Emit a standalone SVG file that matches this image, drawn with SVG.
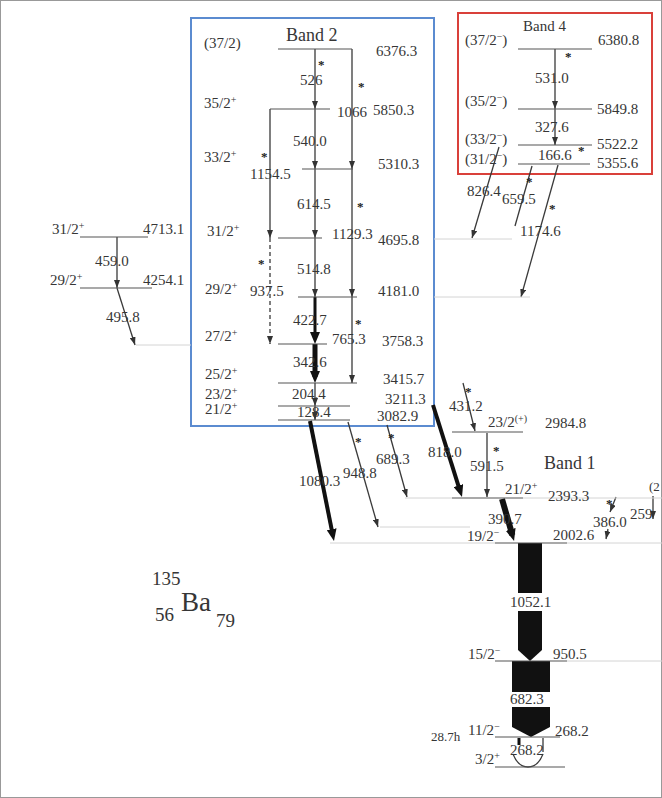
<svg xmlns="http://www.w3.org/2000/svg" width="662" height="798" viewBox="0 0 662 798">
<style>
.t{font-family:"Liberation Serif","Times New Roman",serif;font-size:15px;fill:#363636}
.b{font-size:18px}
.s{font-size:10px}
.a{font-family:"Liberation Serif",serif;font-size:13px;font-weight:bold;fill:#222}
.lv{stroke:#555;stroke-width:1.2;fill:none}
.fl{stroke:#d4d4d4;stroke-width:1;fill:none}
.tr{stroke:#3a3a3a;stroke-width:1.3;fill:none;marker-end:url(#ah)}
.tn{stroke:#3a3a3a;stroke-width:1.3;fill:none}
.tk{stroke:#111;fill:none;marker-end:url(#ahb)}
.bar{fill:#111}
</style>
<defs>
<marker id="ah" markerUnits="userSpaceOnUse" markerWidth="8" markerHeight="6" refX="8" refY="3" orient="auto"><path d="M0,0 L8,3 L0,6 z" fill="#333"/></marker>
<marker id="ahb" markerUnits="userSpaceOnUse" markerWidth="12" markerHeight="10" refX="6" refY="5" orient="auto"><path d="M0,0 L12,5 L0,10 z" fill="#111"/></marker>
</defs>
<rect x="0.5" y="0.5" width="661" height="797" fill="#fff" stroke="#999"/>

<g id="band2-box"><rect x="191" y="18" width="243" height="408" fill="none" stroke="#5b8bd0" stroke-width="2"/><text class="t b" x="286" y="41">Band 2</text></g>
<g id="band4-box"><rect x="458" y="13" width="194" height="161" fill="none" stroke="#d9403a" stroke-width="2"/><text class="t" x="523" y="31">Band 4</text></g>
<g id="band1-label"><text class="t b" x="544" y="469">Band 1</text></g>

<g id="connectors">
<path class="tr" d="M315 49V109"/>
<path class="tr" d="M352 49V169"/>
<path class="tr" d="M315 109V169"/>
<path class="tr" d="M270 109V238"/>
<path class="tr" d="M315 169V238"/>
<path class="tr" d="M352 169V297"/>
<path class="tr" d="M270 238V344" stroke-dasharray="4 3"/>
<path class="tr" d="M315 238V297"/>
<path class="tr" d="M352 297V383"/>
<path class="tk" d="M315 297V338" stroke-width="3"/>
<path class="tk" d="M315 344V377" stroke-width="5"/>
<path class="tr" d="M315 383V406" stroke-width="2"/>
<path class="tr" d="M315 406V420"/>
<path class="tr" d="M117 237V288"/>
<path class="tr" d="M117 288L135 345"/>
<path class="tr" d="M555 49V109"/>
<path class="tr" d="M555 109V145"/>
<path class="tr" d="M499 147L472 238"/>
<path class="tn" d="M532 166L515 226"/>
<path class="tr" d="M558 165L521 297"/>
<path class="tk" d="M310 421L332.8 535.1" stroke-width="4"/>
<path class="tr" d="M348 422L378 527"/>
<path class="tr" d="M387 425L407 497"/>
<path class="tr" d="M463 383L475 431"/>
<path class="tk" d="M433 405L460.2 491.3" stroke-width="4"/>
<path class="tr" d="M487 433V497"/>
<path class="tk" d="M502 499L512.4 535.2" stroke-width="6"/>
<path class="tr" d="M616 497L610 512"/>
<path class="tr" d="M608 529L606 539"/>
<path class="tr" d="M653 496V519"/>
<polygon class="bar" points="518,543 542,543 542,593 518,593"/>
<polygon class="bar" points="518,611 542,611 542,650 530,661 518,650"/>
<polygon class="bar" points="512,661 550,661 550,692 512,692"/>
<polygon class="bar" points="512,707 550,707 550,727 531,737 512,727"/>
<path d="M519 738V745" stroke="#111" stroke-width="3"/>
<path class="tn" d="M543 738V752"/>
<path class="tn" d="M513 754Q518 767 528 767Q538 767 543 754"/>
<text class="a" x="318" y="69">*</text>
<text class="a" x="358" y="91">*</text>
<text class="a" x="261" y="161">*</text>
<text class="a" x="357" y="211">*</text>
<text class="a" x="258" y="268">*</text>
<text class="a" x="355" y="328">*</text>
<text class="a" x="565" y="61">*</text>
<text class="a" x="578" y="155">*</text>
<text class="a" x="526" y="186">*</text>
<text class="a" x="549" y="213">*</text>
<text class="a" x="465" y="396">*</text>
<text class="a" x="493" y="455">*</text>
<text class="a" x="355" y="446">*</text>
<text class="a" x="388" y="442">*</text>
<text class="a" x="606" y="508">*</text>
</g>

<g id="lvl-6376"><path class="lv" d="M278 49H352"/><text class="t" x="204" y="48">(37/2)</text><text class="t" x="376" y="56">6376.3</text><text class="t" x="300" y="85">526</text><text class="t" x="337" y="117">1066</text></g>
<g id="lvl-5850"><path class="lv" d="M270 109H330"/><text class="t" x="204" y="108">35/2<tspan class="s" dy="-5">+</tspan></text><text class="t" x="373" y="115">5850.3</text><text class="t" x="293" y="146">540.0</text></g>
<g id="lvl-5310"><path class="lv" d="M302 169H353"/><text class="t" x="204" y="162">33/2<tspan class="s" dy="-5">+</tspan></text><text class="t" x="378" y="169">5310.3</text><text class="t" x="250" y="179">1154.5</text><text class="t" x="297" y="209">614.5</text></g>
<g id="lvl-4696"><path class="lv" d="M278 238H322"/><path class="fl" d="M434 239H512"/><text class="t" x="207" y="236">31/2<tspan class="s" dy="-5">+</tspan></text><text class="t" x="332" y="239">1129.3</text><text class="t" x="378" y="245">4695.8</text><text class="t" x="297" y="274">514.8</text></g>
<g id="lvl-4181"><path class="lv" d="M298 297H357"/><path class="fl" d="M434 297H530"/><text class="t" x="205" y="294">29/2<tspan class="s" dy="-5">+</tspan></text><text class="t" x="250" y="296">937.5</text><text class="t" x="378" y="296">4181.0</text><text class="t" x="293" y="325">422.7</text></g>
<g id="lvl-3758"><path class="lv" d="M278 344H327"/><path class="fl" d="M136 345H191"/><text class="t" x="205" y="341">27/2<tspan class="s" dy="-5">+</tspan></text><text class="t" x="332" y="344">765.3</text><text class="t" x="382" y="346">3758.3</text><text class="t" x="293" y="367">342.6</text></g>
<g id="lvl-3416"><path class="lv" d="M278 383H357"/><text class="t" x="205" y="379">25/2<tspan class="s" dy="-5">+</tspan></text><text class="t" x="383" y="384">3415.7</text></g>
<g id="lvl-3211"><path class="lv" d="M278 406H350"/><text class="t" x="205" y="399">23/2<tspan class="s" dy="-5">+</tspan></text><text class="t" x="385" y="404">3211.3</text><text class="t" x="292" y="399">204.4</text></g>
<g id="lvl-3083"><path class="lv" d="M278 420H350"/><text class="t" x="205" y="414">21/2<tspan class="s" dy="-5">+</tspan></text><text class="t" x="297" y="417">128.4</text><text class="t" x="377" y="421">3082.9</text></g>

<g id="lvl-4713"><path class="lv" d="M80 237H148"/><text class="t" x="52" y="234">31/2<tspan class="s" dy="-5">+</tspan></text><text class="t" x="143" y="234">4713.1</text><text class="t" x="95" y="266">459.0</text></g>
<g id="lvl-4254"><path class="lv" d="M80 288H152"/><text class="t" x="50" y="285">29/2<tspan class="s" dy="-5">+</tspan></text><text class="t" x="143" y="285">4254.1</text><text class="t" x="106" y="322">495.8</text></g>

<g id="lvl-6381"><path class="lv" d="M518 49H592"/><text class="t" x="465" y="45">(37/2<tspan class="s" dy="-5">−</tspan><tspan dy="5">)</tspan></text><text class="t" x="598" y="45">6380.8</text><text class="t" x="535" y="83">531.0</text></g>
<g id="lvl-5850b"><path class="lv" d="M518 109H592"/><text class="t" x="465" y="106">(35/2<tspan class="s" dy="-5">−</tspan><tspan dy="5">)</tspan></text><text class="t" x="597" y="114">5849.8</text><text class="t" x="535" y="132">327.6</text></g>
<g id="lvl-5522"><path class="lv" d="M518 145H592"/><text class="t" x="465" y="144">(33/2<tspan class="s" dy="-5">−</tspan><tspan dy="5">)</tspan></text><text class="t" x="597" y="149">5522.2</text></g>
<g id="lvl-5356"><path class="lv" d="M518 164H590"/><text class="t" x="465" y="164">(31/2<tspan class="s" dy="-5">−</tspan><tspan dy="5">)</tspan></text><text class="t" x="538" y="160">166.6</text><text class="t" x="597" y="168">5355.6</text><text class="t" x="467" y="196">826.4</text><text class="t" x="502" y="204">659.5</text><text class="t" x="520" y="236">1174.6</text></g>

<g id="lvl-2985"><path class="lv" d="M452 432H523"/><text class="t" x="449" y="411">431.2</text><text class="t" x="488" y="427">23/2<tspan class="s" dy="-5">(+)</tspan></text><text class="t" x="545" y="428">2984.8</text><text class="t" x="428" y="457">818.0</text><text class="t" x="470" y="471">591.5</text></g>
<g id="lvl-2393"><path class="fl" d="M405 498H452M523 498H662"/><path class="lv" d="M452 498H523"/><text class="t" x="505" y="494">21/2<tspan class="s" dy="-5">+</tspan></text><text class="t" x="548" y="501">2393.3</text><text class="t" x="376" y="464">689.3</text><text class="t" x="488" y="524">390.7</text><text class="t" x="593" y="527">386.0</text><text class="t" x="630" y="519">259</text><text class="t" x="649" y="491" style="font-size:13px">(2</text></g>
<g id="lvl-2134"><path class="fl" d="M380 527H470"/><text class="t" x="343" y="478">948.8</text><text class="t" x="299" y="486">1080.3</text></g>
<g id="lvl-2003"><path class="fl" d="M330 543H495M567 543H662"/><path class="lv" d="M495 543H567"/><text class="t" x="467" y="541">19/2<tspan class="s" dy="-5">−</tspan></text><text class="t" x="553" y="540">2002.6</text><text class="t" x="510" y="607">1052.1</text></g>
<g id="lvl-951"><path class="fl" d="M567 661H662"/><path class="lv" d="M495 661H567"/><text class="t" x="468" y="659">15/2<tspan class="s" dy="-5">−</tspan></text><text class="t" x="553" y="659">950.5</text><text class="t" x="510" y="704">682.3</text></g>
<g id="lvl-268"><path class="lv" d="M495 737H560"/><text class="t" x="431" y="741" style="font-size:13px">28.7h</text><text class="t" x="468" y="735">11/2<tspan class="s" dy="-5">−</tspan></text><text class="t" x="555" y="736">268.2</text><text class="t" x="510" y="755">268.2</text></g>
<g id="lvl-0"><path class="lv" d="M495 767H565"/><text class="t" x="475" y="764">3/2<tspan class="s" dy="-5">+</tspan></text></g>

<g id="nucleus"><text class="t" x="152" y="585" style="font-size:19px">135</text><text class="t" x="155" y="621" style="font-size:19px">56</text><text class="t" x="181" y="611" style="font-size:27px">Ba</text><text class="t" x="216" y="627" style="font-size:19px">79</text></g>
</svg>
